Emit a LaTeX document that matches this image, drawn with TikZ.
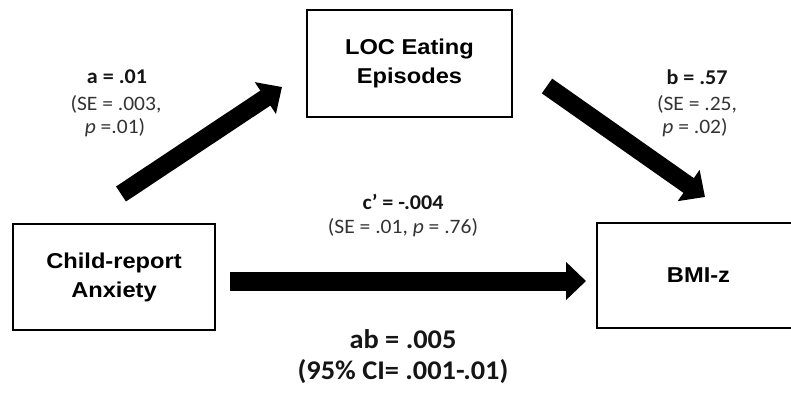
\documentclass[tikz,border=0pt]{standalone}
\usepackage{fontspec}
\setmainfont{Carlito}
\newfontfamily\boxfont[FakeStretch=1.1]{Liberation Sans}
\newfontfamily\labfont[FakeStretch=1.05]{Carlito}
\usetikzlibrary{arrows.meta}
\definecolor{labgray}{HTML}{333333}
\definecolor{labdark}{HTML}{151515}
\tikzset{
  box/.style={draw=black, line width=2pt, fill=white, inner sep=0pt, align=center,
    font=\boxfont\bfseries\fontsize{21.5}{29}\selectfont, text=black},
  bigarrow/.style={line width=#1, -{Triangle[width=37pt,length=20pt]}, black},
  labbold/.style={font=\labfont\bfseries\fontsize{21}{24}\selectfont, text=labdark, inner sep=0pt},
  labreg/.style={font=\labfont\fontsize{20.5}{24}\selectfont, text=labgray, inner sep=0pt},
  labbig/.style={font=\labfont\bfseries\fontsize{27}{32}\selectfont, text=labdark, inner sep=0pt}
}
\begin{document}
\begin{tikzpicture}[x=1pt,y=-1pt]
\useasboundingbox (0,0) rectangle (791,393);
% boxes
\node[box, minimum width=205pt, minimum height=107pt] (loc) at (409.5,63.5) {LOC Eating\\Episodes};
\node[box, minimum width=202pt, minimum height=106pt] (child) at (114,277) {Child-report\\Anxiety};
\node[box, minimum width=203pt, minimum height=105pt] (bmi) at (698.5,275.5) {BMI-z};
% arrow end points
\coordinate (atail) at (121,194);
\coordinate (ahead) at (282,87);
\coordinate (btail) at (547,86);
\coordinate (bhead) at (705,197);
\coordinate (ctail) at (230,281);
\coordinate (chead) at (586,281);
\draw[bigarrow=18pt] (atail) -- (ahead);
\draw[bigarrow=18pt] (btail) -- (bhead);
\draw[bigarrow=19pt] (ctail) -- (chead);
% labels
\node[labbold] (la1) at (117,77) {a = .01};
\node[labreg] (la2) at (116,104) {(SE = .003,};
\node[labreg] (la3) at (115,128) {\textit{p} =.01)};
\node[labbold] (lb1) at (697,77) {b = .57};
\node[labreg] (lb2) at (697,104) {(SE = .25,};
\node[labreg] (lb3) at (695,128) {\textit{p} = .02)};
\node[labbold] (lc1) at (403,202) {c’ = -.004};
\node[labreg] (lc2) at (403,228) {(SE = .01, \textit{p} = .76)};
\node[labbig] (lab1) at (403,339) {ab = .005};
\node[labbig] (lab2) at (403,372) {(95\% CI= .001-.01)};
\end{tikzpicture}
\end{document}
